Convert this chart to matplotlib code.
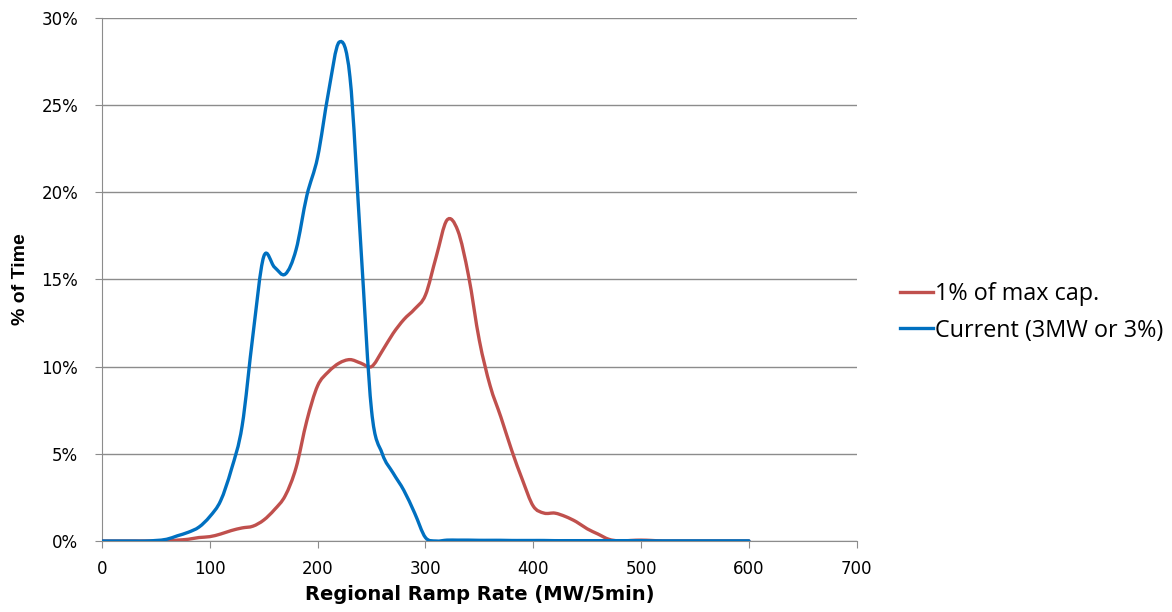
import numpy as np
import matplotlib
matplotlib.use("Agg")
import matplotlib.pyplot as plt
from matplotlib.path import Path
from matplotlib.patches import PathPatch
from matplotlib.lines import Line2D
from matplotlib.ticker import PercentFormatter

plt.rcParams['font.family'] = ['DejaVu Sans']

ramp = list(range(0, 610, 10))

# % of time at every 10 MW/5min
current = [0, 0, 0, 0, 0, 0.03, 0.1, 0.3, 0.5, 0.8,
           1.4, 2.3, 4.1, 6.6, 11.8, 16.3, 15.7, 15.3, 16.7, 19.8,
           22.0, 25.7, 28.6, 26.6, 17.0, 7.5, 5.0, 3.9, 2.9, 1.6,
           0.2, 0, 0.05, 0.05, 0.05, 0.04, 0.04, 0.04, 0.03, 0.03,
           0.03, 0.03, 0.02, 0.02, 0.02, 0.02, 0.02, 0.02, 0.02, 0.02,
           0.02, 0.01, 0.01, 0.01, 0.01, 0.01, 0.01, 0.01, 0.01, 0.01, 0.01]
max_cap = [0, 0, 0, 0, 0, 0, 0, 0.05, 0.1, 0.2,
           0.25, 0.4, 0.6, 0.75, 0.85, 1.2, 1.8, 2.6, 4.2, 6.9,
           8.9, 9.7, 10.2, 10.4, 10.2, 10.0, 10.9, 11.9, 12.7, 13.3,
           14.1, 16.3, 18.4, 17.8, 15.2, 11.5, 8.9, 7.1, 5.2, 3.5,
           2.0, 1.6, 1.6, 1.4, 1.1, 0.7, 0.4, 0.1, 0.0, 0.03,
           0.05, 0.03, 0, 0, 0, 0, 0, 0, 0, 0, 0]

series_names = ['1% of max cap.', 'Current (3MW or 3%)']
colors = ['#C0504D', '#0070C0']


def smooth_path(x, y):
    # Excel-style smoothed line: cubic bezier through every point
    x = np.asarray(x, float)
    y = np.asarray(y, float)
    verts = [(x[0], y[0])]
    codes = [Path.MOVETO]
    n = len(x)
    for i in range(n - 1):
        p0 = np.array([x[max(i - 1, 0)], y[max(i - 1, 0)]])
        p1 = np.array([x[i], y[i]])
        p2 = np.array([x[i + 1], y[i + 1]])
        p3 = np.array([x[min(i + 2, n - 1)], y[min(i + 2, n - 1)]])
        c1 = p1 + (p2 - p0) / 6.0
        c2 = p2 - (p3 - p1) / 6.0
        verts += [tuple(c1), tuple(c2), tuple(p2)]
        codes += [Path.CURVE4] * 3
    return Path(verts, codes)


fig = plt.figure(figsize=(11.72, 6.12), dpi=100)
ax = fig.add_axes([0.087, 0.116, 0.644, 0.855])

for vals, c in zip([max_cap, current], colors):
    ax.add_patch(PathPatch(smooth_path(ramp, vals), facecolor='none',
                           edgecolor=c, lw=2.4, capstyle='round', zorder=3))

ax.set_xlim(0, 700)
ax.set_ylim(0, 30)
ax.set_xticks(range(0, 701, 100))
ax.set_yticks(range(0, 31, 5))
ax.yaxis.set_major_formatter(PercentFormatter(decimals=0))
ax.grid(axis='y', color='#8c8c8c', lw=1)
ax.set_axisbelow(True)
for s in ['top', 'right']:
    ax.spines[s].set_visible(False)
for s in ['left', 'bottom']:
    ax.spines[s].set_color('#8c8c8c')
ax.tick_params(colors='#8c8c8c', labelcolor='black', labelsize=12, length=5)
ax.tick_params(axis='y', pad=12)
ax.tick_params(axis='x', pad=9)

ax.set_xlabel('Regional Ramp Rate (MW/5min)', fontsize=14, fontweight='bold', labelpad=5)
ax.set_ylabel('% of Time', fontsize=14, fontweight='bold', labelpad=9,
              family=['Liberation Sans', 'DejaVu Sans'])

handles = [Line2D([], [], color=c, lw=2.4) for c in colors]
fig.legend(handles, series_names, loc='center left', bbox_to_anchor=(0.768, 0.49),
           frameon=False, borderpad=0, borderaxespad=0, handlelength=1.4,
           handletextpad=0.08, labelspacing=0.55,
           prop={'family': ['Open Sans', 'DejaVu Sans'], 'size': 16.8})

fig.savefig('out.png', dpi=100)
